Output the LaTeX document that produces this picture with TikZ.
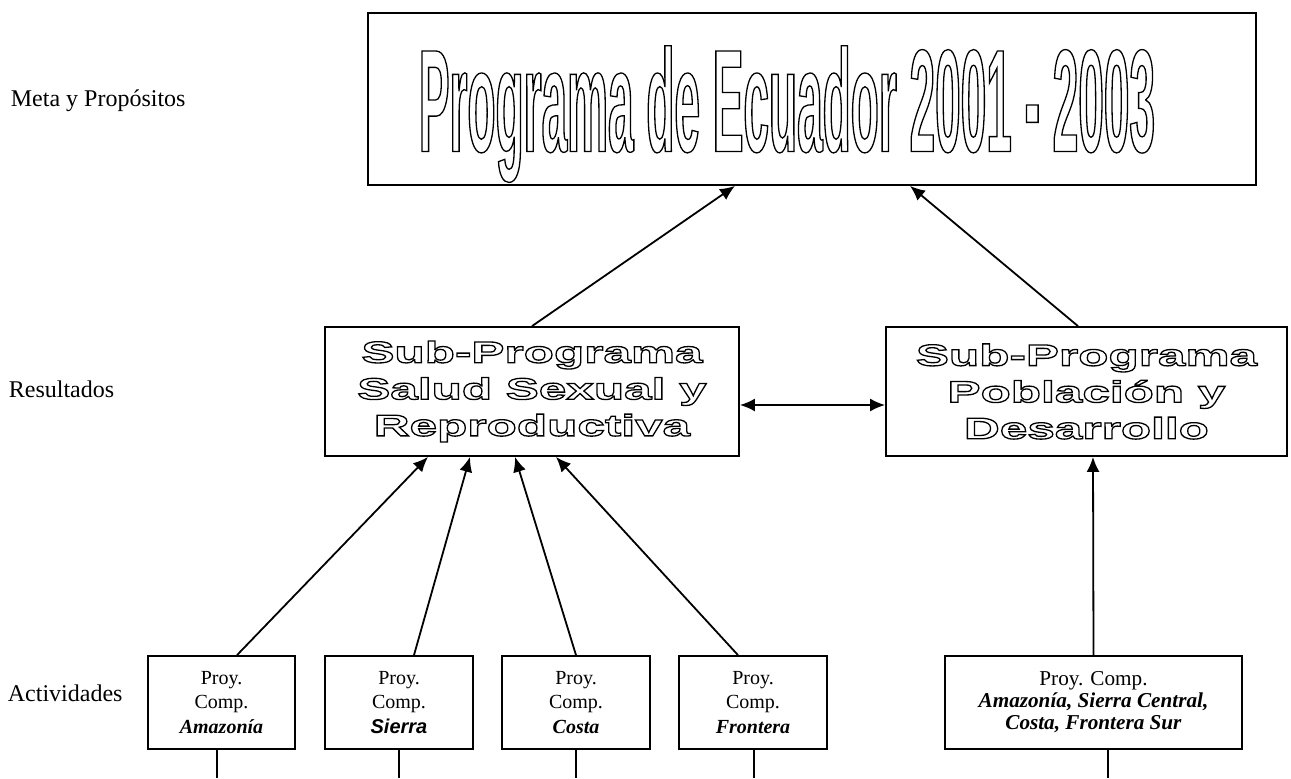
\documentclass[tikz,border=0pt]{standalone}
\usepackage{fontspec}
\setmainfont{Liberation Serif}
\newfontfamily\sansfont{Liberation Sans}
\newfontfamily\titlefont{Liberation Sans Bold}[FakeStretch=0.315]
\newfontfamily\subfont{Liberation Sans Bold}[FakeStretch=1.65]
\usetikzlibrary{arrows.meta}
\newcommand{\hollow}[1]{\special{pdf:literal direct 1 Tr 0.65 w}#1\special{pdf:literal direct 0 Tr}}

\begin{document}
\begin{tikzpicture}[>/.tip={Latex[length=7.5pt,width=6.5pt]},x=0.5pt,y=-0.5pt,line width=0.9pt,
	box/.style={draw,inner sep=0pt,align=center},
	proy/.style={box,minimum height=46.5pt,font=\fontsize{10}{12.3}\selectfont},
	level/.style={anchor=west,inner sep=0pt,font=\fontsize{12}{14}\selectfont}]
	\useasboundingbox (0,0) rectangle (1291,778);
	% niveles
	\node (meta) [level] at (10,101) {Meta y Propósitos};
	\node (resultados) [level] at (8,389) {Resultados};
	\node (actividades) [level] at (7,693) {Actividades};
	% programa
	\draw (812,99) node (titulo) [box,minimum width=444pt,minimum height=86pt,text height=52.5pt,text depth=0pt] {\titlefont\fontsize{73}{80}\selectfont\hollow{Programa de Ecuador 2001 - 2003}\hspace*{25pt}};
	% sub-programas
	\draw (532,391.5) node (salud) [box,minimum width=207pt,minimum height=64.5pt,font=\subfont\fontsize{15}{18.3}\selectfont] {\hollow{Sub-Programa\\Salud Sexual y\\Reproductiva}};
	\draw (1086.5,391.5) node (poblacion) [box,minimum width=200.5pt,minimum height=64.5pt,font=\subfont\fontsize{15}{18.3}\selectfont] {\hollow{Sub-Programa\\Población y\\Desarrollo}};
	% proyectos
	\draw (221.5,702.5) node (amazonia) [proy,minimum width=73.5pt] {Proy.\\Comp.\\\textbf{\textit{Amazonía}}};
	\draw (399,702.5) node (sierra) [proy,minimum width=74pt] {Proy.\\Comp.\\{\sansfont\bfseries\itshape Sierra}};
	\draw (576,702.5) node (costa) [proy,minimum width=74pt] {Proy.\\Comp.\\\textbf{\textit{Costa}}};
	\draw (753,702.5) node (frontera) [proy,minimum width=74pt] {Proy.\\Comp.\\\textbf{\textit{Frontera}}};
	\draw (1093.5,702.5) node (conjunto) [proy,minimum width=148.5pt,font=\fontsize{10.6}{11}\selectfont] {Proy. Comp.\\\textbf{\textit{Amazonía, Sierra Central,}}\\\textbf{\textit{Costa, Frontera Sur}}};
	% flechas
	\path[->] (salud.north) edge ([xshift=-38.5pt]titulo.south);
	\path[->] ([xshift=-4.25pt]poblacion.north) edge ([xshift=49pt]titulo.south);
	\path[<->] ([yshift=-6.75pt]salud.east) edge ([yshift=-6.75pt]poblacion.west);
	\path[->] ([xshift=7.75pt]amazonia.north) edge ([xshift=-52pt]salud.south);
	\path[->] ([xshift=7.5pt]sierra.north) edge ([xshift=-31pt]salud.south);
	\path[->] (costa.north) edge ([xshift=-8.5pt]salud.south);
	\path[->] ([xshift=-7.5pt]frontera.north) edge ([xshift=12pt]salud.south);
	\path[->] (conjunto.north) edge ([xshift=3.25pt]poblacion.south);
	% salidas
	\coordinate (amazoniafin) at (217,778);
	\coordinate (sierrafin) at (399,778);
	\coordinate (costafin) at (576,778);
	\coordinate (fronterafin) at (754,778);
	\coordinate (conjuntofin) at (1108,778);
	\draw (amazonia.south -| amazoniafin) -- (amazoniafin);
	\draw (sierra.south -| sierrafin) -- (sierrafin);
	\draw (costa.south -| costafin) -- (costafin);
	\draw (frontera.south -| fronterafin) -- (fronterafin);
	\draw (conjunto.south -| conjuntofin) -- (conjuntofin);
\end{tikzpicture}
\end{document}
